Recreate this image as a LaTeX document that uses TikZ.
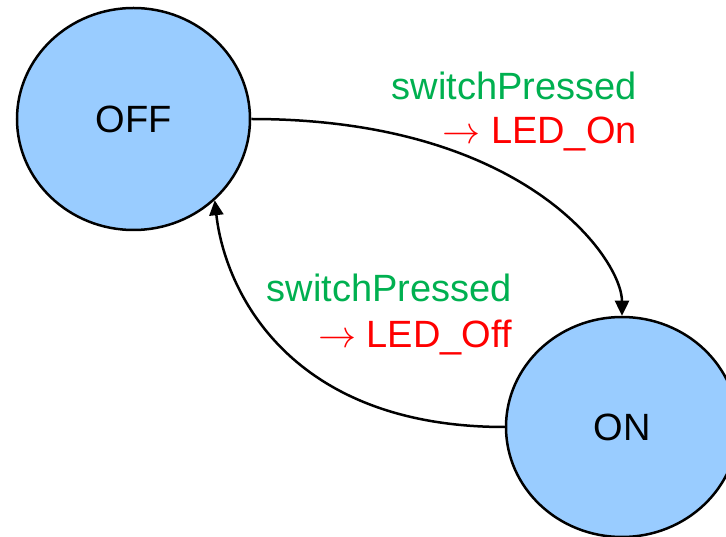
\RequirePackage{fix-cm}
\documentclass[tikz,border=0pt]{standalone}
\usepackage{fontspec}
\setmainfont{Liberation Sans}
\usetikzlibrary{arrows.meta,shapes.geometric}
\definecolor{statefill}{HTML}{99CCFF}
\definecolor{evgreen}{HTML}{00B050}
\definecolor{actred}{HTML}{FF0000}
\begin{document}
\begin{tikzpicture}[x=1pt,y=-1pt,
  state/.style={ellipse,draw=black,line width=2.5pt,fill=statefill,
    inner sep=0pt,font=\fontsize{38}{38}\selectfont},
  trans/.style={line width=2.5pt,-{Triangle[length=15pt,width=14pt]}},
  translabel/.style={inner sep=0pt,align=right,anchor=north east}]
  \useasboundingbox (0,0) rectangle (726,537);
  \node[state,minimum width=233pt,minimum height=222pt] (off) at (133.5,119) {OFF};
  \node[state,minimum width=232pt,minimum height=220pt] (on) at (622,427) {ON};
  % OFF -> ON
  \draw[trans] (off.east) .. controls +(275,0) and +(0,-56) .. (on.north);
  \node[translabel,font=\fontsize{38}{44}\selectfont] (lblon) at (637,71.5)
    {\textcolor{evgreen}{switchPressed}\\\textcolor{actred}{$\rightarrow$ LED\_On}};
  % ON -> OFF
  \draw[trans] (on.west) .. controls +(-216,0) and +(10,90) .. (off.-45);
  \node[translabel,font=\fontsize{38}{46}\selectfont] (lbloff) at (512,273.5)
    {\textcolor{evgreen}{switchPressed}\\\textcolor{actred}{$\rightarrow$ LED\_Off}};
\end{tikzpicture}
\end{document}
